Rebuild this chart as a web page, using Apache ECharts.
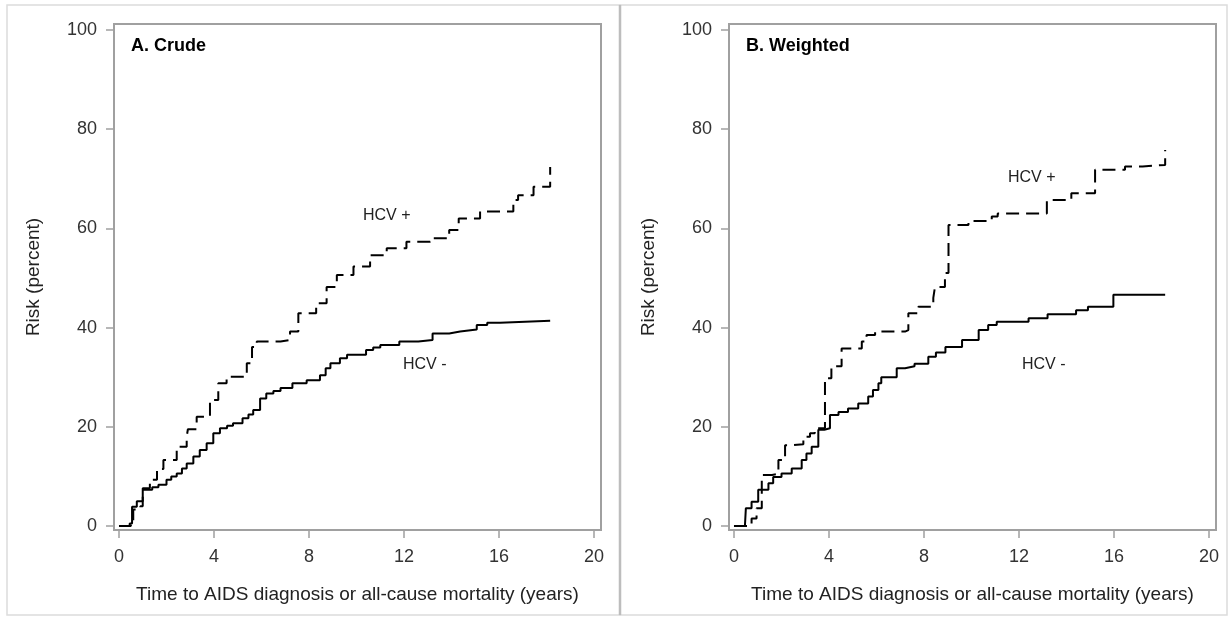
<!DOCTYPE html>
<html>
<head>
<meta charset="utf-8">
<script src="https://cdn.jsdelivr.net/npm/echarts@6/dist/echarts.min.js"></script>
<style>
  html, body { margin: 0; padding: 0; background: #fff; }
  #chart { width: 1231px; height: 618px; }
</style>
</head>
<body>
<div id="chart"></div>
<script>
// tick values
var xTicks = [0, 4, 8, 12, 16, 20];
var yTicks = [0, 20, 40, 60, 80, 100];

// A. Crude - HCV negative (solid)
var crudeNegT = [0, 0.45, 0.55, 0.75, 1.0, 1.4, 1.66, 2.0, 2.2, 2.43, 2.65, 2.85, 3.13, 3.4, 3.69, 3.97, 4.25, 4.55, 4.8, 5.2, 5.45, 5.65, 5.94, 6.2, 6.5, 6.8, 7.3, 7.9, 8.46, 8.7, 8.9, 9.3, 9.6, 10.4, 10.7, 11.0, 11.8, 12.6, 13.2, 13.9, 14.36, 15.06, 15.5, 16.04, 18.15];
var crudeNegR = [0, 0.5, 3.9, 5.0, 7.3, 7.8, 8.3, 9.3, 10.0, 10.6, 11.6, 12.6, 14.0, 15.3, 16.7, 18.7, 19.7, 20.2, 20.7, 21.7, 22.5, 23.4, 25.7, 26.7, 27.2, 27.8, 28.8, 29.4, 30.4, 31.8, 32.8, 33.8, 34.5, 35.5, 36.0, 36.5, 37.2, 37.5, 38.8, 39.2, 39.6, 40.5, 41.0, 41.4, 41.5];

// A. Crude - HCV positive (dashed)
var crudePosT = [0, 0.5, 0.6, 0.9, 1.0, 1.3, 1.6, 1.87, 2.43, 2.85, 2.9, 3.27, 3.83, 4.18, 4.53, 5.38, 5.6, 5.8, 6.8, 7.2, 7.55, 8.3, 8.74, 9.17, 9.87, 10.57, 11.27, 12.1, 13.1, 13.9, 14.3, 15.2, 16.6, 16.8, 17.45, 18.15];
var crudePosR = [0, 0.5, 3.3, 4.0, 7.6, 9.3, 11.5, 13.3, 16, 18, 19.5, 22, 25.4, 28.8, 30.1, 32.8, 36.1, 37.2, 37.5, 39.2, 42.9, 44.9, 48.2, 50.6, 52.3, 54.6, 56, 57.3, 58, 59.7, 62, 63.4, 65.7, 66.7, 68.4, 72.4];

// B. Weighted - HCV negative (solid)
var wtNegT = [0, 0.46, 0.5, 0.74, 1.02, 1.45, 1.65, 2.0, 2.43, 2.85, 3.05, 3.27, 3.55, 3.8, 4.04, 4.4, 4.8, 5.23, 5.65, 5.85, 6.08, 6.2, 6.85, 7.2, 7.6, 8.18, 8.5, 8.9, 9.6, 10.3, 10.7, 11.06, 12.4, 13.2, 14.4, 14.9, 15.97, 18.15];
var wtNegR = [0, 0.3, 3.6, 4.9, 7.3, 8.6, 9.9, 10.6, 11.6, 13.3, 14.6, 16, 19.4, 19.7, 22.4, 23.0, 23.7, 24.7, 26.1, 27.4, 28.8, 30, 31.8, 32.2, 32.7, 34.1, 35.0, 36.1, 37.5, 39.5, 40.5, 41.2, 41.9, 42.7, 43.5, 44.2, 46.6, 46.6];

// B. Weighted - HCV positive (dashed)
var wtPosT = [0, 0.74, 0.95, 1.17, 1.6, 1.87, 2.15, 2.4, 2.92, 3.2, 3.4, 3.83, 4.1, 4.53, 5.38, 5.58, 5.94, 7.2, 7.34, 7.76, 8.39, 8.46, 8.88, 9.03, 9.87, 10.85, 11.1, 13.17, 14.2, 15.2, 16.46, 17.2, 18.15];
var wtPosR = [0, 1.5, 3.6, 10.3, 10.5, 13.3, 16.3, 16.5, 18, 18.7, 19.7, 29.8, 32.2, 35.8, 37.2, 38.5, 39.2, 39.5, 42.9, 44.2, 46.0, 48.2, 51, 60.7, 61.5, 62.4, 63, 65.7, 67.1, 71.8, 72.5, 72.8, 75.8];

function pairs(t, r) {
  var out = [];
  for (var i = 0; i < t.length; i++) {
    out.push([t[i], r[i]]);
  }
  return out;
}

var font = "'Liberation Sans', Arial, sans-serif";
var frameColor = "#a0a0a0";

function makeX(idx) {
  return {
    gridIndex: idx,
    type: "value",
    min: -0.21,
    max: 20.29,
    name: "Time to AIDS diagnosis or all-cause mortality (years)",
    nameLocation: "middle",
    nameGap: 55,
    nameTextStyle: { color: "#222", fontSize: 19, fontFamily: font },
    axisLine: { show: false, onZero: false },
    axisTick: { show: true, inside: false, length: 8, customValues: xTicks, lineStyle: { color: frameColor, width: 1.5 } },
    axisLabel: { customValues: xTicks, margin: 18, color: "#333", fontSize: 18, fontFamily: font },
    splitLine: { show: false }
  };
}

function makeY(idx) {
  return {
    gridIndex: idx,
    type: "value",
    min: -0.81,
    max: 101.21,
    name: "Risk (percent)",
    nameLocation: "middle",
    nameGap: 71,
    nameTextStyle: { color: "#222", fontSize: 19, fontFamily: font },
    axisLine: { show: false, onZero: false },
    axisTick: { show: true, inside: false, length: 8, customValues: yTicks, lineStyle: { color: frameColor, width: 1.5 } },
    axisLabel: { customValues: yTicks, margin: 17, color: "#333", fontSize: 18, fontFamily: font },
    splitLine: { show: false }
  };
}

function stepSeries(idx, t, r, dashed) {
  return {
    type: "line",
    xAxisIndex: idx,
    yAxisIndex: idx,
    step: "end",
    showSymbol: false,
    silent: true,
    data: pairs(t, r),
    lineStyle: { color: "#000", width: 2, type: dashed ? [13, 7] : "solid" }
  };
}

function label(x, y, txt, bold) {
  return {
    type: "text",
    left: x,
    top: y,
    style: {
      text: txt,
      fill: bold ? "#000" : "#222",
      font: (bold ? "bold 18px " : "16px ") + font
    }
  };
}

var chart = echarts.init(document.getElementById("chart"));
var option = {
  backgroundColor: "#fff",
  animation: false,
  grid: [
    { left: 114, top: 24, width: 487, height: 506, show: true, borderColor: frameColor, borderWidth: 2, backgroundColor: "#fff" },
    { left: 729, top: 24, width: 487, height: 506, show: true, borderColor: frameColor, borderWidth: 2, backgroundColor: "#fff" }
  ],
  xAxis: [makeX(0), makeX(1)],
  yAxis: [makeY(0), makeY(1)],
  series: [
    stepSeries(0, crudeNegT, crudeNegR, false),
    stepSeries(0, crudePosT, crudePosR, true),
    stepSeries(1, wtNegT, wtNegR, false),
    stepSeries(1, wtPosT, wtPosR, true)
  ],
  graphic: [
    { type: "rect", z: -10, shape: { x: 7, y: 5, width: 613, height: 610 }, style: { fill: "none", stroke: "#dcdcdc", lineWidth: 1.5 } },
    { type: "rect", z: -10, shape: { x: 620, y: 5, width: 607, height: 610 }, style: { fill: "none", stroke: "#dcdcdc", lineWidth: 1.5 } },
    { type: "line", z: -9, shape: { x1: 620, y1: 5, x2: 620, y2: 615 }, style: { stroke: "#bdbdbd", lineWidth: 2.5 } },
    label(131, 37, "A. Crude", true),
    label(746, 37, "B. Weighted", true),
    label(363, 208, "HCV +", false),
    label(403, 357, "HCV -", false),
    label(1008, 170, "HCV +", false),
    label(1022, 357, "HCV -", false)
  ]
};
chart.setOption(option);
</script>
</body>
</html>
